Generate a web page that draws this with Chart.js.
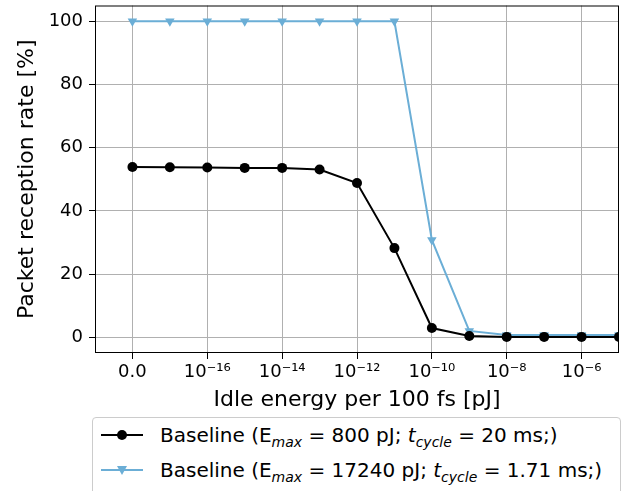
<!DOCTYPE html>
<html>
<head>
<meta charset="utf-8">
<script src="https://cdn.jsdelivr.net/npm/chart.js@4"></script>
<style>
  body { margin: 0; background: #fff; font-family: "DejaVu Sans", sans-serif; }
  #wrap { position: relative; width: 632px; height: 491px; overflow: hidden; }
  #chart { display: block; }
  #legend {
    position: absolute; left: 92px; top: 417px; width: 529px; height: 90px;
    border: 1px solid #cccccc; border-radius: 4px; background: #fff;
    font-size: 20px; color: #000; box-sizing: border-box;
  }
  .row { position: absolute; left: 0; height: 30px; line-height: 30px; white-space: nowrap; }
  .row svg { position: absolute; left: 7px; top: 0; }
  .row span { position: absolute; left: 67px; top: 0; }
  sub { font-size: 70%; vertical-align: -0.35em; line-height: 0; }
</style>
</head>
<body>
<div id="wrap">
  <canvas id="chart" width="632" height="416"></canvas>
  <div id="legend">
    <div class="row" style="top:2px">
      <svg width="44" height="30"><line x1="1" y1="15" x2="43" y2="15" stroke="#000" stroke-width="2"/><circle cx="22" cy="15" r="5" fill="#000"/></svg>
      <span>Baseline (E<sub><i>max</i></sub> = 800 pJ; <i>t</i><sub><i>cycle</i></sub> = 20 ms;)</span>
    </div>
    <div class="row" style="top:37px">
      <svg width="44" height="30"><line x1="1" y1="15" x2="43" y2="15" stroke="#6baed6" stroke-width="2"/><polygon points="17,11 27,11 22,20" fill="#6baed6"/></svg>
      <span>Baseline (E<sub><i>max</i></sub> = 17240 pJ; <i>t</i><sub><i>cycle</i></sub> = 1.71 ms;)</span>
    </div>
  </div>
</div>
<script>
// idle energy per 100 fs [pJ]; 0 is drawn one decade left of 1e-17
const idleEnergy = [0, 1e-17, 1e-16, 1e-15, 1e-14, 1e-13, 1e-12, 1e-11, 1e-10, 1e-9, 1e-8, 1e-7, 1e-6, 1e-5];
const rateSmall = [53.9, 53.8, 53.7, 53.6, 53.6, 53.1, 48.8, 28.2, 2.9, 0.4, 0.1, 0.1, 0.1, 0.1];
const rateLarge = [100, 100, 100, 100, 100, 100, 100, 100, 30.8, 2.0, 0.7, 0.7, 0.7, 0.7];
const xTickPos = [-18, -16, -14, -12, -10, -8, -6];
const xTickLabels = ['0.0', '10⁻¹⁶', '10⁻¹⁴', '10⁻¹²', '10⁻¹⁰', '10⁻⁸', '10⁻⁶'];
const yTicks = [0, 20, 40, 60, 80, 100];

const font = 'DejaVu Sans';
const gridColor = '#b0b0b0';

function xPos(e) {
    return e === 0 ? -18 : Math.log10(e);
}

function toPoints(values) {
    return values.map((v, i) => ({ x: xPos(idleEnergy[i]), y: v }));
}

// black frame around the plot area, like matplotlib spines
const framePlugin = {
    id: 'frame',
    afterDatasetsDraw(chart) {
        const { ctx, chartArea: a } = chart;
        ctx.save();
        ctx.strokeStyle = '#000';
        ctx.lineWidth = 1;
        ctx.strokeRect(a.left + 0.5, a.top + 0.5, a.right - a.left - 1, a.bottom - a.top - 1);
        ctx.restore();
    }
};

new Chart(document.getElementById('chart').getContext('2d'), {
    type: 'line',
    data: {
        datasets: [
            { label: 'small', data: toPoints(rateSmall), borderColor: '#000', backgroundColor: '#000', borderWidth: 2,
              pointStyle: 'circle', pointRadius: 5, pointBorderWidth: 0, clip: 0, tension: 0 },
            { label: 'large', data: toPoints(rateLarge), borderColor: '#6baed6', backgroundColor: '#6baed6', borderWidth: 2,
              pointStyle: 'triangle', pointRotation: 180, pointRadius: 5.5, pointBorderWidth: 0, clip: 0, tension: 0 }
        ]
    },
    options: {
        responsive: false,
        animation: false,
        layout: { padding: { top: 3, right: 13, left: 0, bottom: 0 } },
        plugins: { legend: { display: false }, tooltip: { enabled: false } },
        scales: {
            x: {
                type: 'linear', min: -19, max: -5,
                afterBuildTicks: s => { s.ticks = xTickPos.map(v => ({ value: v })); },
                afterFit: s => { s.height = 63; s.paddingLeft = 0; s.paddingRight = 0; },
                ticks: { color: '#000', font: { family: font, size: 18 }, padding: 3, maxRotation: 0, autoSkip: false,
                         callback: v => xTickLabels[xTickPos.indexOf(v)] },
                grid: { color: gridColor, lineWidth: 1, tickColor: '#000', tickLength: 6 },
                border: { display: false },
                title: { display: true, text: 'Idle energy per 100 fs [pJ]', color: '#000',
                         font: { family: font, size: 22 }, padding: { top: 0, bottom: 3 } }
            },
            y: {
                min: -5, max: 105,
                afterBuildTicks: s => { s.ticks = yTicks.map(v => ({ value: v })); },
                afterFit: s => { s.width = 95; s.paddingTop = 0; s.paddingBottom = 0; },
                ticks: { color: '#000', font: { family: font, size: 18 }, padding: 6 },
                grid: { color: gridColor, lineWidth: 1, tickColor: '#000', tickLength: 6 },
                border: { display: false },
                title: { display: true, text: 'Packet reception rate [%]', color: '#000',
                         font: { family: font, size: 22 }, padding: { top: 14, bottom: 0 } }
            }
        }
    },
    plugins: [framePlugin]
});
</script>
</body>
</html>
